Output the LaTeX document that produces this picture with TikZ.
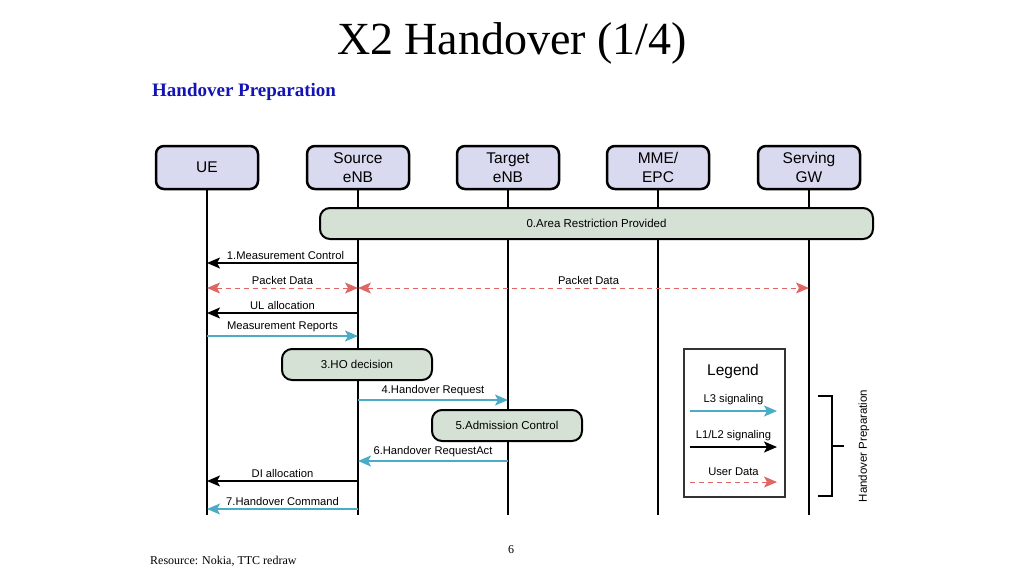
\documentclass[tikz,border=0pt]{standalone}
\usepackage{fontspec}
\setmainfont{Liberation Serif}
\setsansfont{Liberation Sans}
\usetikzlibrary{
    arrows.meta,
    positioning,
    calc
}
\definecolor{entity}{HTML}{D9D9EF}
\definecolor{action}{HTML}{D5E1D5}
\definecolor{signal}{HTML}{4BACC6}
\definecolor{userdata}{HTML}{E06666}
\definecolor{heading}{HTML}{1414B4}
\definecolor{frame}{HTML}{333333}
\tikzset{
    % Network element header
    entity box/.style={
        rectangle,
        rounded corners=8pt,
        minimum width=102pt,
        minimum height=43pt,
        align=center,
        font=\fontsize{15.5}{19}\selectfont\sffamily,
        draw=black,
        fill=entity,
        line width=2.5pt
    },
    % Procedure step box
    action box/.style={
        rectangle,
        rounded corners=10pt,
        minimum width=150pt,
        minimum height=31pt,
        align=center,
        font=\fontsize{11.5}{13}\selectfont\sffamily,
        draw=black,
        fill=action,
        line width=2pt
    },
    % Lifeline
    lifeline/.style={
        line width=2.8pt,
        color=black
    },
    % Arrow styles
    l3 msg/.style={
        -{Stealth[length=13pt, width=11pt, inset=3pt]},
        line width=1.5pt,
        color=signal
    },
    l2 msg/.style={
        -{Stealth[length=13pt, width=11pt, inset=3pt]},
        line width=1.5pt,
        color=black
    },
    data msg/.style={
        {Stealth[length=13pt, width=11pt, inset=3pt]}-{Stealth[length=13pt, width=11pt, inset=3pt]},
        line width=1pt,
        dash pattern=on 5pt off 4pt,
        color=userdata
    },
    % Label style
    msg label/.style={
        font=\fontsize{11.2}{13}\selectfont\sffamily,
        text=black,
        inner sep=3pt,
        above
    }
}
\begin{document}
\begin{tikzpicture}[x=1pt, y=-1pt]
        \useasboundingbox (0,0) rectangle (1024,576);

        % Titles
        \node[font=\fontsize{46}{50}\selectfont] (title) at (512,43) {X2 Handover (1/4)};
        \node[font=\fontsize{19}{22}\selectfont\bfseries, text=heading, anchor=west, inner sep=0pt] (phase) at (152,91.5) {Handover Preparation};
        \node[font=\fontsize{12}{14}\selectfont, anchor=west, inner sep=0pt] (source) at (150,561) {Resource: Nokia, TTC redraw};
        \node[font=\fontsize{12}{14}\selectfont, inner sep=0pt] (page) at (511,549.5) {6};

        % Network elements
        \node[entity box] (ue) at (207,167.5) {UE};
        \node[entity box] (senb) at (358,167.5) {Source\\eNB};
        \node[entity box] (tenb) at (508,167.5) {Target\\eNB};
        \node[entity box] (mme) at (658,167.5) {MME/\\EPC};
        \node[entity box] (sgw) at (809,167.5) {Serving\\GW};

        % Lifelines
        \coordinate (bottom) at (0,515);
        \draw[lifeline] (ue.south) -- (ue |- bottom);
        \draw[lifeline] (senb.south) -- (senb |- bottom);
        \draw[lifeline] (tenb.south) -- (tenb |- bottom);
        \draw[lifeline] (mme.south) -- (mme |- bottom);
        \draw[lifeline] (sgw.south) -- (sgw |- bottom);

        % Steps
        \node[action box, minimum width=553pt] (area) at (596.5,223.5) {0.Area Restriction Provided};
        \node[action box] (hodec) at (357,364.5) {3.HO decision};
        \node[action box] (admit) at (507,425.5) {5.Admission Control};

        % Message rows
        \coordinate (m1) at (0,263);
        \coordinate (m2) at (0,288);
        \coordinate (m3) at (0,313);
        \coordinate (m4) at (0,336);
        \coordinate (m5) at (0,400);
        \coordinate (m6) at (0,461);
        \coordinate (m7) at (0,481);
        \coordinate (m8) at (0,509);

        % Messages
        \draw[l2 msg] (senb |- m1) -- node[msg label, xshift=3pt] {1.Measurement Control} (ue |- m1);
        \draw[data msg] (ue |- m2) -- node[msg label] {Packet Data} (senb |- m2);
        \draw[data msg] (senb |- m2) -- node[msg label, xshift=5pt] {Packet Data} (sgw |- m2);
        \draw[l2 msg] (senb |- m3) -- node[msg label] {UL allocation} (ue |- m3);
        \draw[l3 msg] (ue |- m4) -- node[msg label] {Measurement Reports} (senb |- m4);
        \draw[l3 msg] (senb |- m5) -- node[msg label] {4.Handover Request} (tenb |- m5);
        \draw[l3 msg] (tenb |- m6) -- node[msg label] {6.Handover RequestAct} (senb |- m6);
        \draw[l2 msg] (senb |- m7) -- node[msg label] {DI allocation} (ue |- m7);
        \draw[l3 msg] (senb |- m8) -- node[msg label] {7.Handover Command} (ue |- m8);

        % Legend
        \node[draw=frame, line width=1.5pt, minimum width=101pt, minimum height=148pt] (legend) at (734.5,423) {};
        \node[font=\fontsize{15.5}{18}\selectfont\sffamily] (legend title) at (733,371) {Legend};
        \coordinate (lg1a) at (690,411);
        \coordinate (lg1b) at (777,411);
        \coordinate (lg2a) at (690,447);
        \coordinate (lg2b) at (777,447);
        \coordinate (lg3a) at (690,482);
        \coordinate (lg3b) at (777,482);
        \draw[l3 msg] (lg1a) -- node[msg label, yshift=2pt] {L3 signaling} (lg1b);
        \draw[l2 msg] (lg2a) -- node[msg label, yshift=2pt] {L1/L2 signaling} (lg2b);
        \draw[data msg, arrows={-Stealth[length=13pt, width=11pt, inset=3pt]}] (lg3a) -- node[msg label, yshift=3pt] {User Data} (lg3b);

        % Phase bracket
        \coordinate (brtop) at (818,396);
        \coordinate (brbot) at (818,496);
        \coordinate (brmid) at (832,446);
        \draw[line width=1.5pt] (brtop) -- ++(14,0) |- (brbot);
        \draw[line width=1.5pt] (brmid) -- ++(12,0);
        \node[font=\fontsize{11.5}{13}\selectfont\sffamily, rotate=90] (phase label) at (864,446) {Handover Preparation};

    \end{tikzpicture}
\end{document}
